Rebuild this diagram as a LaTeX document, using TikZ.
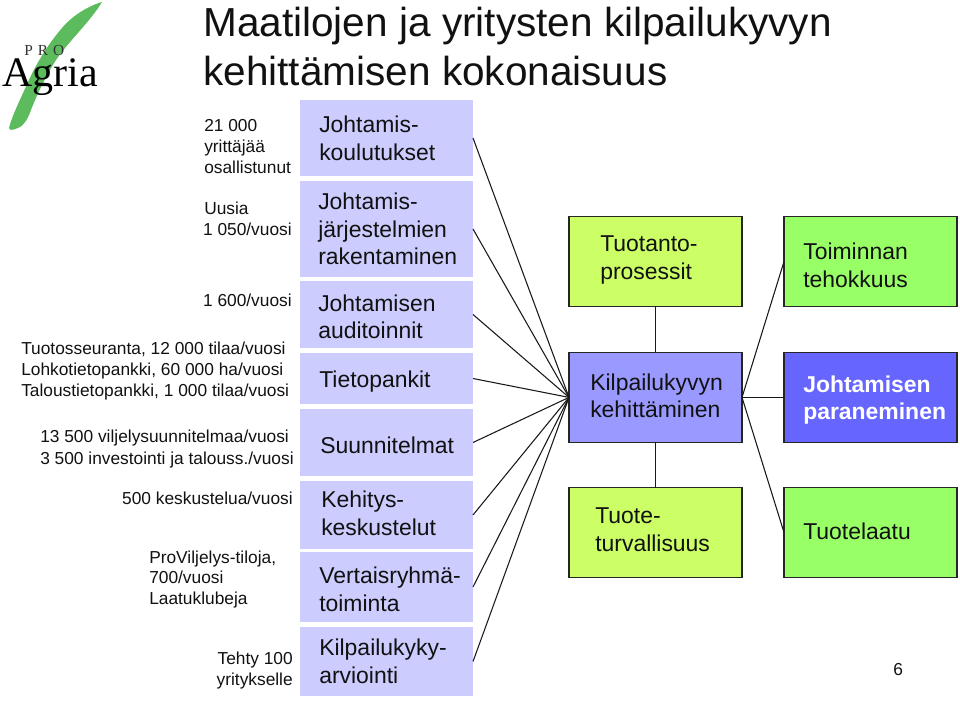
\documentclass[tikz,border=0pt]{standalone}
\usepackage{fontspec}
\setmainfont{Liberation Sans}
\newfontfamily\logofont{Liberation Serif}
\definecolor{leftbox}{HTML}{CCCCFF}
\definecolor{limebox}{HTML}{CCFF66}
\definecolor{greenbox}{HTML}{99FF66}
\definecolor{midbox}{HTML}{9999FF}
\definecolor{darkbox}{HTML}{6666FF}
\definecolor{leaf}{HTML}{5CBB5C}
\definecolor{ink}{HTML}{111111}
\tikzset{
  x=0.75pt,y=-0.75pt,
  bx/.style={anchor=north west,inner sep=0pt,outer sep=0pt},
  lbox/.style={bx,fill=leftbox,minimum width=173.5*0.75pt},
  rbox/.style={bx,draw=black!85,line width=0.8pt,minimum width=173*0.75pt,minimum height=90*0.75pt},
  lnk/.style={draw=black!90,line width=0.8pt},
  titletxt/.style={anchor=base west,inner sep=0pt,font=\fontsize{30.4pt}{32pt}\selectfont,text=ink},
  bigtxt/.style={anchor=base west,inner sep=0pt,font=\fontsize{17.2pt}{20pt}\selectfont,text=ink},
  smalltxt/.style={anchor=base west,inner sep=0pt,font=\fontsize{13pt}{15pt}\selectfont,text=ink},
  smallr/.style={anchor=base east,inner sep=0pt,font=\fontsize{13pt}{15pt}\selectfont,text=ink},
}
\begin{document}
\begin{tikzpicture}
\useasboundingbox (0,0) rectangle (960,702);
% logo
\fill[leaf] (102,2) .. controls (88,6) and (72,16) .. (62,28) .. controls (50,42) and (38,60) .. (28,82) .. controls (20,100) and (12,116) .. (9,128) .. controls (10,131) and (13,130) .. (18,128) .. controls (25,125) and (28,118) .. (31,110) .. controls (38,92) and (46,76) .. (56,60) .. controls (68,42) and (90,22) .. (102,2) -- cycle;
\node[anchor=base west,inner sep=0pt,font=\logofont\fontsize{11.5pt}{12pt}\selectfont,text=black!80] (pro) at (24,55.5) {P\,\,R\,\,O};
\node[anchor=base west,inner sep=0pt,font=\logofont\fontsize{31.5pt}{33pt}\selectfont] (agria) at (2,87) {Agria};
% title
\node[titletxt] (t1) at (203,36.5) {Maatilojen ja yritysten kilpailukyvyn};
\node[titletxt] (t2) at (203,86) {kehittämisen kokonaisuus};
% left boxes
\node[lbox,minimum height=76*0.75pt] (a) at (299.5,100) {};
\node[lbox,minimum height=96*0.75pt] (b) at (299.5,181) {};
\node[lbox,minimum height=67*0.75pt] (c) at (299.5,281) {};
\node[lbox,minimum height=51*0.75pt] (d) at (299.5,353) {};
\node[lbox,minimum height=67*0.75pt] (e) at (299.5,409) {};
\node[lbox,minimum height=68*0.75pt] (f) at (299.5,481) {};
\node[lbox,minimum height=70*0.75pt] (g) at (299.5,552) {};
\node[lbox,minimum height=69*0.75pt] (h) at (299.5,627) {};
% right boxes
\node[rbox,fill=limebox] (tp) at (569,216.5) {};
\node[rbox,fill=midbox] (k) at (569,352.4) {};
\node[rbox,fill=limebox] (tt) at (569,487.5) {};
\node[rbox,fill=greenbox] (te) at (784,216.5) {};
\node[rbox,fill=darkbox] (jp) at (784,352.4) {};
\node[rbox,fill=greenbox] (tl) at (784,487.5) {};
% connectors
\foreach \n in {a,b,c,d,e,f,g,h} \draw[lnk] (\n.east) -- (k.west);
\draw[lnk] (tp) -- (k);
\draw[lnk] (k) -- (tt);
\draw[lnk] (k.east) -- (te.west);
\draw[lnk] (k.east) -- (jp.west);
\draw[lnk] (k.east) -- (tl.west);
% left box text
\node[bigtxt] (a1) at (319,133) {Johtamis-};
\node[bigtxt] (a2) at (319,161) {koulutukset};
\node[bigtxt] (b1) at (318,210) {Johtamis-};
\node[bigtxt] (b2) at (318,238) {järjestelmien};
\node[bigtxt] (b3) at (318,265) {rakentaminen};
\node[bigtxt] (c1) at (318,311) {Johtamisen};
\node[bigtxt] (c2) at (318,338) {auditoinnit};
\node[bigtxt] (d1) at (319,387) {Tietopankit};
\node[bigtxt] (e1) at (320,453) {Suunnitelmat};
\node[bigtxt] (f1) at (321,507) {Kehitys-};
\node[bigtxt] (f2) at (321,535) {keskustelut};
\node[bigtxt] (g1) at (319,583) {Vertaisryhmä-};
\node[bigtxt] (g2) at (319,611) {toiminta};
\node[bigtxt] (h1) at (319,655) {Kilpailukyky-};
\node[bigtxt] (h2) at (319,683) {arviointi};
% right box text
\node[bigtxt] (tp1) at (600,252) {Tuotanto-};
\node[bigtxt] (tp2) at (600,280) {prosessit};
\node[bigtxt] (k1) at (590,390) {Kilpailukyvyn};
\node[bigtxt] (k2) at (590,417) {kehittäminen};
\node[bigtxt] (tt1) at (595,523) {Tuote-};
\node[bigtxt] (tt2) at (595,551) {turvallisuus};
\node[bigtxt] (te1) at (803,260) {Toiminnan};
\node[bigtxt] (te2) at (803,287) {tehokkuus};
\node[bigtxt,font=\fontsize{17.2pt}{20pt}\selectfont\bfseries,text=white] (jp1) at (803,392) {Johtamisen};
\node[bigtxt,font=\fontsize{17.2pt}{20pt}\selectfont\bfseries,text=white] (jp2) at (803,419) {paraneminen};
\node[bigtxt] (tl1) at (803,539) {Tuotelaatu};
% small text
\node[smalltxt] (s1) at (204,132) {21 000};
\node[smalltxt] (s2) at (204,153) {yrittäjää};
\node[smalltxt] (s3) at (204,174) {osallistunut};
\node[smalltxt] (s4) at (204,215) {Uusia};
\node[smallr] (s5) at (292,236) {1 050/vuosi};
\node[smallr] (s6) at (292,306) {1 600/vuosi};
\node[smalltxt] (s7) at (21,354) {Tuotosseuranta, 12 000 tilaa/vuosi};
\node[smalltxt] (s8) at (21,375) {Lohkotietopankki, 60 000 ha/vuosi};
\node[smalltxt] (s9) at (21,396) {Taloustietopankki, 1 000 tilaa/vuosi};
\node[smalltxt] (s10) at (40,442) {13 500 viljelysuunnitelmaa/vuosi};
\node[smalltxt] (s11) at (40,464) {3 500 investointi ja talouss./vuosi};
\node[smallr] (s12) at (293,504) {500 keskustelua/vuosi};
\node[smalltxt] (s13) at (149,563) {ProViljelys-tiloja,};
\node[smalltxt] (s14) at (149,583) {700/vuosi};
\node[smalltxt] (s15) at (149,604) {Laatuklubeja};
\node[smallr] (s16) at (293,664) {Tehty 100};
\node[smallr] (s17) at (293,685) {yritykselle};
\node[smalltxt] (pg) at (893,675) {6};
\end{tikzpicture}
\end{document}
